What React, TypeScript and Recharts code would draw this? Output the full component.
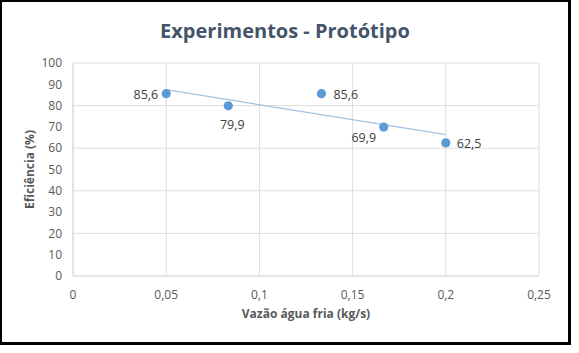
import React from 'react';
import { ScatterChart, Scatter, XAxis, YAxis, CartesianGrid, LabelList, Label } from 'recharts';

const flowRates = [0.05, 0.0833, 0.1333, 0.1667, 0.2];
const efficiencies = [85.6, 79.9, 85.6, 69.9, 62.5];
const xTicks = [0, 0.05, 0.1, 0.15, 0.2, 0.25];
const yTicks = [0, 10, 20, 30, 40, 50, 60, 70, 80, 90, 100];
const chartTitle = 'Experimentos - Protótipo';
const xAxisTitle = 'Vazão água fria (kg/s)';
const yAxisTitle = 'Eficiência (%)';

const points = flowRates.map((x, i) => ({ x, y: efficiencies[i] }));

// linear trendline (least squares) from the data
const n = points.length;
const mx = points.reduce((s, p) => s + p.x, 0) / n;
const my = points.reduce((s, p) => s + p.y, 0) / n;
const slope =
  points.reduce((s, p) => s + (p.x - mx) * (p.y - my), 0) /
  points.reduce((s, p) => s + (p.x - mx) * (p.x - mx), 0);
const intercept = my - slope * mx;
const xMin = Math.min(...flowRates);
const xMax = Math.max(...flowRates);
const trend = [
  { x: xMin, y: intercept + slope * xMin },
  { x: xMax, y: intercept + slope * xMax },
];

const labelPlacement = [
  { dx: -8, dy: 1, anchor: 'end' },
  { dx: 4, dy: 19, anchor: 'middle' },
  { dx: 12, dy: 1, anchor: 'start' },
  { dx: -20, dy: 10, anchor: 'middle' },
  { dx: 11, dy: 1, anchor: 'start' },
];

const FONT = '"Open Sans", "Liberation Sans", sans-serif';
const TEXT = '#595959';

const fmt = (v: number) => String(v).replace('.', ',');

const DataLabel = (props: any) => {
  const { x, y, width, height, index, value } = props;
  const cx = x + (width || 0) / 2;
  const cy = y + (height || 0) / 2;
  const pl = labelPlacement[index] || labelPlacement[0];
  return (
    <text
      x={cx + pl.dx}
      y={cy + pl.dy}
      textAnchor={pl.anchor}
      dominantBaseline="central"
      fontSize={12.5}
      fontFamily={FONT}
      fill="#404040"
    >
      {Number(value).toFixed(1).replace('.', ',')}
    </text>
  );
};

const Dot = (props: any) => <circle cx={props.cx} cy={props.cy} r={4.6} fill="#5B9BD5" />;
const NoDot = () => <g />;

export default function App() {
  return (
    <div style={{ position: 'absolute', left: 0, top: 0, width: 579, height: 353, background: '#fff' }}>
      <div
        style={{
          position: 'absolute',
          left: 0,
          top: 0,
          width: 566,
          height: 340,
          borderTop: '2px solid #000',
          borderLeft: '2px solid #000',
          borderRight: '3px solid #000',
          borderBottom: '3px solid #000',
        }}
      />
      <div
        style={{
          position: 'absolute',
          left: 0,
          top: 17,
          width: 570,
          textAlign: 'center',
          fontFamily: FONT,
          fontWeight: 700,
          fontSize: 20,
          color: '#44546A',
        }}
      >
        {chartTitle}
      </div>
      <div style={{ position: 'absolute', left: 0, top: 0 }}>
        <ScatterChart width={579} height={353} margin={{ top: 63, right: 40, bottom: 37, left: 20 }}>
          <CartesianGrid stroke="#DEDEDE" strokeWidth={1} />
          <XAxis
            type="number"
            dataKey="x"
            domain={[0, 0.25]}
            ticks={xTicks}
            tickFormatter={fmt}
            axisLine={{ stroke: '#D9D9D9' }}
            tickLine={false}
            tickMargin={8}
            height={40}
            tick={{ fill: TEXT, fontSize: 12, fontFamily: FONT }}
            allowDataOverflow
          >
            <Label
              content={(p: any) => {
                const vb = p.viewBox || {};
                return (
                  <text
                    x={vb.x + vb.width / 2}
                    y={vb.y + 37}
                    textAnchor="middle"
                    dominantBaseline="central"
                    fontSize={12}
                    fontWeight={700}
                    fontFamily={FONT}
                    fill={TEXT}
                  >
                    {xAxisTitle}
                  </text>
                );
              }}
            />
          </XAxis>
          <YAxis
            type="number"
            dataKey="y"
            domain={[0, 100]}
            ticks={yTicks}
            axisLine={{ stroke: '#D9D9D9' }}
            tickLine={false}
            tickMargin={5}
            width={53}
            tick={{ fill: TEXT, fontSize: 12, fontFamily: FONT }}
          >
            <Label
              content={(p: any) => {
                const vb = p.viewBox || {};
                const cx = 29;
                const cy = vb.y + vb.height / 2;
                return (
                  <text
                    x={cx}
                    y={cy}
                    transform={`rotate(-90 ${cx} ${cy})`}
                    textAnchor="middle"
                    dominantBaseline="central"
                    fontSize={12}
                    fontWeight={700}
                    fontFamily={FONT}
                    fill={TEXT}
                  >
                    {yAxisTitle}
                  </text>
                );
              }}
            />
          </YAxis>
          <Scatter
            data={trend}
            line={{ stroke: '#9DC3E6', strokeWidth: 1.2 }}
            shape={NoDot}
            isAnimationActive={false}
          />
          <Scatter data={points} shape={Dot} isAnimationActive={false}>
            <LabelList dataKey="y" content={DataLabel} />
          </Scatter>
        </ScatterChart>
      </div>
    </div>
  );
}
